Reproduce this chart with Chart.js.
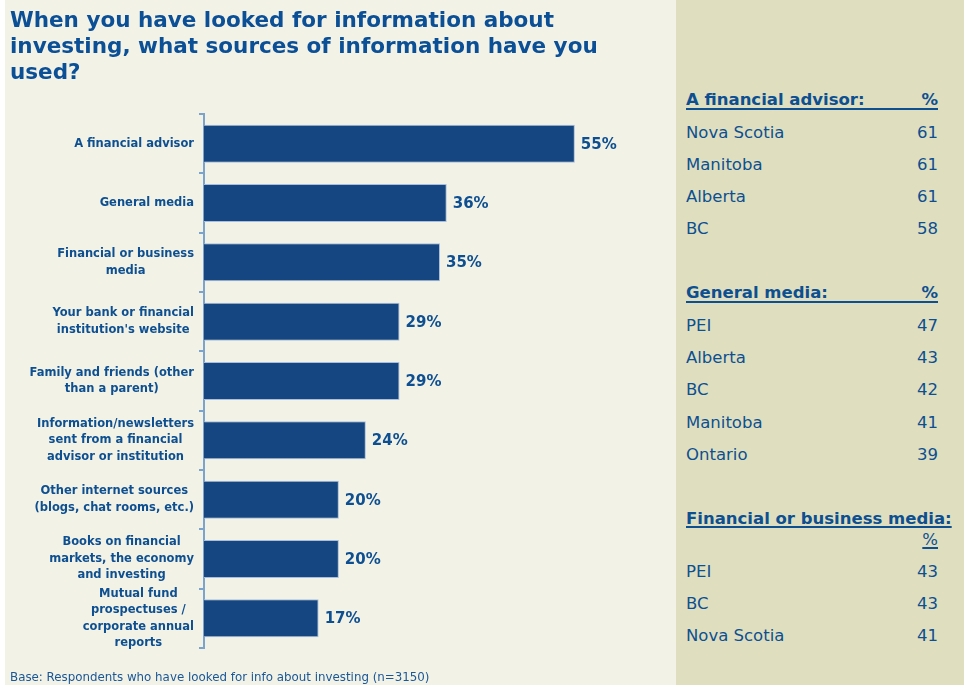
<!DOCTYPE html>
<html>
<head>
<meta charset="utf-8">
<script src="https://cdn.jsdelivr.net/npm/chart.js@4.4.1/dist/chart.umd.min.js"></script>
<style>
  html, body { margin: 0; padding: 0; }
  body { width: 964px; height: 685px; position: relative; overflow: hidden; background: #ffffff; }
  #left { position: absolute; left: 5px; top: 0; width: 671px; height: 685px; background: #f2f2e6; }
  #right { position: absolute; left: 676px; top: 0; width: 288px; height: 685px; background: #dfdfbf; }
  #chartBox { position: absolute; left: 0; top: 0; width: 676px; height: 685px; }
  #title { position: absolute; left: 10px; top: 7px; width: 660px; color: #0b4f96;
    font: bold 21.5px "DejaVu Sans", sans-serif; line-height: 26px; }
  #base { position: absolute; left: 10px; top: 670px; color: #1a5797;
    font: 11.85px "DejaVu Sans", sans-serif; }
  .line { position: absolute; left: 686px; width: 252px; height: 20px; line-height: 20px; color: #0d4f91;
    font: 16.5px "DejaVu Sans", sans-serif; display: flex; justify-content: space-between; white-space: nowrap; }
  .head { font-weight: bold; }
  .head.rule { border-bottom: 2px solid #0d4f91; height: 18px; line-height: 20px; }
  .u { text-decoration: underline; text-decoration-thickness: 2px; text-underline-offset: 2px; }
</style>
</head>
<body>
<div id="left"></div>
<div id="right"></div>
<div id="chartBox"><canvas id="chart" width="676" height="685"></canvas></div>
<div id="title">When you have looked for information about<br>investing, what sources of information have you<br>used?</div>
<div id="base">Base: Respondents who have looked for info about investing (n=3150)</div>
<div id="panel"></div>
<script>
const categories = [
  ["A financial advisor"],
  ["General media"],
  ["Financial or business", "media"],
  ["Your bank or financial", "institution's website"],
  ["Family and friends (other", "than a parent)"],
  ["Information/newsletters", "sent from a financial", "advisor or institution"],
  ["Other internet sources", "(blogs, chat rooms, etc.)"],
  ["Books on financial", "markets, the economy", "and investing"],
  ["Mutual fund", "prospectuses /", "corporate annual", "reports"]
];
const values = [55, 36, 35, 29, 29, 24, 20, 20, 17];

// provincial highlights in the side panel
const advisorProvinces = ["Nova Scotia", "Manitoba", "Alberta", "BC"];
const advisorPct = [61, 61, 61, 58];
const mediaProvinces = ["PEI", "Alberta", "BC", "Manitoba", "Ontario"];
const mediaPct = [47, 43, 42, 41, 39];
const businessProvinces = ["PEI", "BC", "Nova Scotia"];
const businessPct = [43, 43, 41];

const barColor = "#154682";
const textColor = "#0d4f91";
const axisColor = "#7ba3cc";

// side panel
const panel = document.getElementById("panel");
function addLine(top, left, right, cls) {
  const d = document.createElement("div");
  d.className = "line " + (cls || "");
  d.style.top = top + "px";
  d.innerHTML = "<span>" + left + "</span><span>" + right + "</span>";
  panel.appendChild(d);
  return d;
}
addLine(90, "A financial advisor:", "%", "head rule");
advisorProvinces.forEach((p, i) => addLine(123 + i * 32, p, advisorPct[i]));
addLine(283, "General media:", "%", "head rule");
mediaProvinces.forEach((p, i) => addLine(316 + i * 32.2, p, mediaPct[i]));
addLine(509, '<span class="u">Financial or business media:</span>', "", "head");
addLine(530, "", '<span class="u">%</span>');
businessProvinces.forEach((p, i) => addLine(562 + i * 32, p, businessPct[i]));

const valueLabels = {
  id: "valueLabels",
  afterDatasetsDraw(chart) {
    const ctx = chart.ctx;
    const meta = chart.getDatasetMeta(0);
    ctx.save();
    ctx.font = 'bold 15px "DejaVu Sans", sans-serif';
    ctx.fillStyle = textColor;
    ctx.textBaseline = "middle";
    ctx.textAlign = "left";
    meta.data.forEach((bar, i) => {
      ctx.fillText(values[i] + "%", bar.x + 6, bar.y + 1);
    });
    ctx.restore();
  }
};

// category labels: block right-aligned to the axis, lines centred inside the block
const catLabels = {
  id: "catLabels",
  afterDraw(chart) {
    const ctx = chart.ctx;
    const y = chart.scales.y;
    const right = y.right - 10;
    const lh = 16.5;
    ctx.save();
    ctx.font = 'bold 11.5px "DejaVu Sans", sans-serif';
    ctx.fillStyle = textColor;
    ctx.textBaseline = "middle";
    ctx.textAlign = "center";
    categories.forEach((lines, i) => {
      const widest = Math.max(...lines.map(l => ctx.measureText(l).width));
      const cx = right - widest / 2;
      const cy = y.getPixelForTick(i);
      lines.forEach((l, j) => {
        ctx.fillText(l, cx, cy + (j - (lines.length - 1) / 2) * lh);
      });
    });
    ctx.restore();
  }
};

new Chart(document.getElementById("chart"), {
  type: "bar",
  data: {
    labels: categories,
    datasets: [{
      data: values,
      backgroundColor: barColor,
      borderColor: "#a8bedb",
      borderWidth: 1,
      barPercentage: 0.64,
      categoryPercentage: 1
    }]
  },
  options: {
    indexAxis: "y",
    responsive: false,
    animation: false,
    layout: { padding: { top: 114, bottom: 37, left: 0, right: 0 } },
    plugins: { legend: { display: false }, tooltip: { enabled: false } },
    scales: {
      x: { display: false, min: 0, max: 70 },
      y: {
        afterFit(scale) { scale.width = 204; },
        ticks: { display: false },
        grid: { offset: true, drawOnChartArea: false, drawTicks: true, tickLength: 5, color: axisColor, lineWidth: 2 },
        border: { display: true, color: axisColor, width: 2 }
      }
    }
  },
  plugins: [valueLabels, catLabels]
});
</script>
</body>
</html>
